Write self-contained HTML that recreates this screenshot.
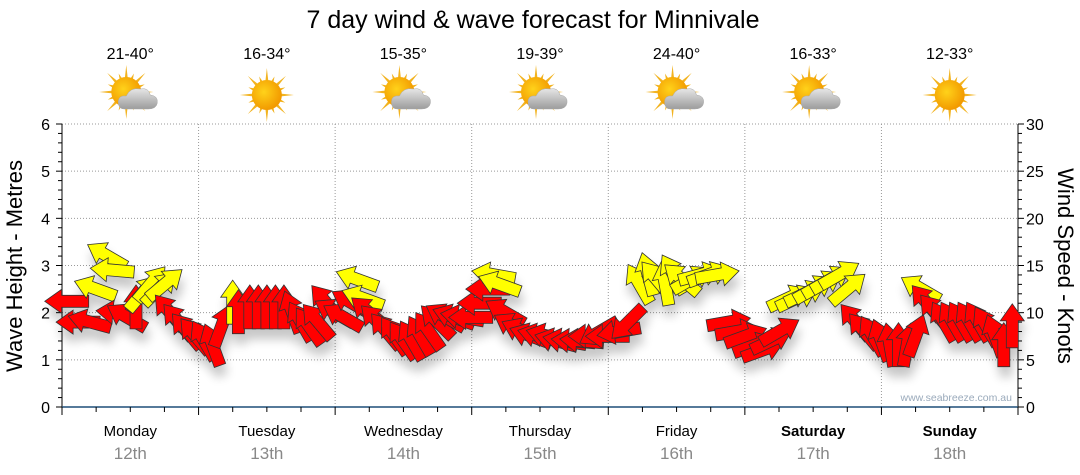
<!DOCTYPE html>
<html><head><meta charset="utf-8">
<style>
body{margin:0;background:#fff;width:1080px;height:475px;overflow:hidden;font-family:"Liberation Sans",sans-serif;}
svg{display:block}
</style></head>
<body>
<svg id="chart" width="1080" height="475" viewBox="0 0 1080 475" font-family="Liberation Sans, sans-serif">
<defs>
<filter id="sh" x="-50%" y="-50%" width="200%" height="200%">
<feGaussianBlur in="SourceAlpha" stdDeviation="5"/>
<feOffset dx="2" dy="10" result="b"/>
<feComponentTransfer><feFuncA type="linear" slope="0.22"/></feComponentTransfer>
<feMerge><feMergeNode/><feMergeNode in="SourceGraphic"/></feMerge>
</filter>
<radialGradient id="sunG" cx="40%" cy="40%" r="60%"><stop offset="0" stop-color="#ffd21a"/><stop offset="1" stop-color="#f29a00"/></radialGradient>
<linearGradient id="cloudG" x1="0" y1="0" x2="0" y2="1"><stop offset="0" stop-color="#e6e6e6"/><stop offset="1" stop-color="#9c9c9c"/></linearGradient>
</defs>
<text x="533" y="28" font-size="25" text-anchor="middle" fill="#000">7 day wind &amp; wave forecast for Minnivale</text>
<g id="grid"></g>
<g id="axes"></g>
<g id="wx"></g>
<text x="1012" y="401" font-size="10.5" text-anchor="end" fill="#9aaabb">www.seabreeze.com.au</text>
<g id="marks" filter="url(#sh)"></g>
<text transform="translate(22,266) rotate(-90)" font-size="22" text-anchor="middle">Wave Height - Metres</text>
<text transform="translate(1058,266) rotate(90)" font-size="22" text-anchor="middle">Wind Speed - Knots</text>
</svg>
<script>
const days = ["Monday","Tuesday","Wednesday","Thursday","Friday","Saturday","Sunday"];
const dates = ["12th","13th","14th","15th","16th","17th","18th"];
const temps = ["21-40°","16-34°","15-35°","19-39°","24-40°","16-33°","12-33°"];
const cloudy = [1,0,1,1,1,1,0];
const leftTicks = [0,1,2,3,4,5,6];
const rightTicks = [0,5,10,15,20,25,30];
const hours = [1,3,5,6,8,9,10,11.5,13,14,15.5,17,18,19,20.5,22,23.5,25,26.5,28,
30,31,33,34.5,36,37.5,39,40.5,42,43.5,45,46.5,
48,49.5,51,52,53,54,55.5,57,58.5,60,61.5,63,64.5,66,67.5,69,70.5,72,
73.5,75,76,77,78,79.5,81,82.5,84,85.5,87,88.5,90,91.5,93,94.5,
96,98,99.5,101.5,103,104.5,106,107.5,109,110.5,112,113.5,115,117,118.5,120,121.5,123,124.5,126,
127.5,129,130.5,132,133.5,135,136.5,138,139.5,141,142.5,144,145.5,147,148.5,150,151,152,153.5,155,156.5,158,159.5,161,162.5,164,165.5,167];
const knots = [11.2,9,9,12.5,16,14.5,10,9.5,10.5,12,13,12.5,13,10,9,8,7.5,7,6.5,8.5,
11,10,10.5,10.5,10.5,10.5,10.5,10,9,8.5,9,11,
10,9.5,11,13.5,11.5,10,9,8,7.5,7,7,7.5,8,9,9.5,9.5,9.5,9.5,
11,12.5,14,13,10,8.5,8,7.5,7.5,7.5,7,7,7,7,7.5,8,
7.5,8,9,13,14,13.5,13,14,13.5,13.5,14,14,14,9,8,7.5,6.5,6,7,8,
11.5,11.5,12,12.5,13,13.5,14,12.5,9,8,7.5,7,6.5,6.5,6.5,7.5,12.5,11,10,9,9,9,9,9,8.5,7.5,6.5,8.5];
const dirs = [270,270,285,290,300,275,275,300,0,40,40,45,50,320,320,320,320,330,340,20,
0,0,0,0,0,0,0,340,330,325,320,320,
300,300,300,290,290,310,315,320,325,325,330,330,325,315,300,290,280,270,
270,270,280,290,300,300,295,290,285,285,285,280,275,275,270,240,
270,260,225,330,345,320,350,330,310,60,75,70,80,80,80,70,70,70,65,60,
65,65,65,60,60,60,60,50,320,320,330,340,350,0,10,20,300,320,320,330,330,330,330,330,330,340,0,0];
const kinds = ["r","r","r","y","y","y","r","r","r","y","y","y","y","r","r","r","r","r","r","r",
"y","r","r","r","r","r","r","r","r","r","r","r",
"r","r","r","y","y","r","r","r","r","r","r","r","r","r","r","r","r","r",
"r","r","y","y","r","r","r","r","r","r","r","r","r","r","r","r",
"r","r","r","y","y","y","y","y","y","y","y","y","y","r","r","r","r","r","r","r",
"y","y","y","y","y","y","y","y","r","r","r","r","r","r","r","r","y","r","r","r","r","r","r","r","r","r","r","r"];

const X0=62,X1=1018,YT=124,YB=407;
const xOf = h => X0 + h*(X1-X0)/168;
const yM = m => YB - m*(YB-YT)/6;
const yK = k => YB - k*(YB-YT)/30;
const NS="http://www.w3.org/2000/svg";
function mk(tag,attrs,parent){const e=document.createElementNS(NS,tag);for(const k in attrs)e.setAttribute(k,attrs[k]);parent.appendChild(e);return e;}
const grid=document.getElementById('grid'),axes=document.getElementById('axes'),wx=document.getElementById('wx'),marks=document.getElementById('marks');

leftTicks.forEach(v=>{
  if(v>0){const l=mk('line',{x1:X0,x2:X1,y1:yM(v),y2:yM(v),stroke:'#999','stroke-dasharray':'1,2'},grid);
  
  }
  const t=mk('text',{x:X0-12,y:yM(v)+6,'font-size':16,'text-anchor':'end',fill:'#000'},axes);t.textContent=v;
  
  
});
rightTicks.forEach(v=>{
  const t=mk('text',{x:X1+8,y:yK(v)+6,'font-size':16,fill:'#000'},axes);t.textContent=v;
  
  
});
for(let i=0;i<=30;i++){
  const y=YB-i*(YB-YT)/30, w=(i%5==0)?6:4;
  mk('line',{x1:X0-w,x2:X0,y1:y,y2:y,stroke:'#000'},axes);
  mk('line',{x1:X1,x2:X1+w,y1:y,y2:y,stroke:'#000'},axes);
}
mk('line',{x1:X0,x2:X0,y1:YT,y2:YB,stroke:'#000'},axes);
mk('line',{x1:X1,x2:X1,y1:YT,y2:YB,stroke:'#000'},axes);
mk('line',{x1:X0,x2:X1,y1:YB,y2:YB,stroke:'#1f4e79','stroke-width':1.5},axes);
for(let h=0;h<=168;h+=6){
  const x=xOf(h);
  mk('line',{x1:x,x2:x,y1:YB,y2:YB+(h%24==0?8:5),stroke:'#000'},axes);
  if(h%24==0&&h>0&&h<168){const g=mk('line',{x1:x,x2:x,y1:YT,y2:YB,stroke:'#999','stroke-dasharray':'1,2'},grid);
  
  }
}
days.forEach((d,i)=>{
  const cx=xOf(i*24+12);
  const t=mk('text',{x:cx,y:436,'font-size':15,'text-anchor':'middle',fill:'#000','font-weight':i>=5?'bold':'normal'},axes);t.textContent=d;
  
  
  const t2=mk('text',{x:cx,y:459,'font-size':17,'text-anchor':'middle',fill:'#888'},axes);t2.textContent=dates[i];
  
  
  const tt=mk('text',{x:cx,y:59,'font-size':16,'text-anchor':'middle',fill:'#000'},wx);tt.textContent=temps[i];
  
  
  const g=mk('g',{transform:`translate(${cx},95)`},wx);
  
  
  const sx=cloudy[i]?-4:0, sy=cloudy[i]?-3:0;
  for(let a=0;a<16;a++){const ang=a*Math.PI/8,r=a%2?20:27;
    mk('polygon',{points:`${sx+Math.cos(ang-0.12)*13},${sy+Math.sin(ang-0.12)*13} ${sx+Math.cos(ang)*r},${sy+Math.sin(ang)*r} ${sx+Math.cos(ang+0.12)*13},${sy+Math.sin(ang+0.12)*13}`,fill:'#f2b320'},g);}
  mk('circle',{cx:sx,cy:sy,r:15,fill:'url(#sunG)'},g);
  if(cloudy[i]){
    mk('path',{d:'M-6,14 Q-12,14 -12,7 Q-12,0 -4,1 Q0,-8 10,-6 Q18,-8 20,0 Q28,1 27,8 Q26,14 18,14 Z',fill:'url(#cloudG)',stroke:'#aaa','stroke-width':0.5},g);
  }
});

hours.forEach((h,i)=>{
  const x=xOf(h), y=yK(knots[i]);
  const p=mk('polygon',{points:'0,-23 12,-6 6,-6 6,21 -6,21 -6,-6 -12,-6',
    fill:kinds[i]=='y'?'#ffff00':'#ff0000',stroke:'#333','stroke-width':0.8,
    transform:`translate(${x.toFixed(1)},${y.toFixed(1)}) rotate(${dirs[i]})`},marks);
  
  
});
</script>
</body></html>
